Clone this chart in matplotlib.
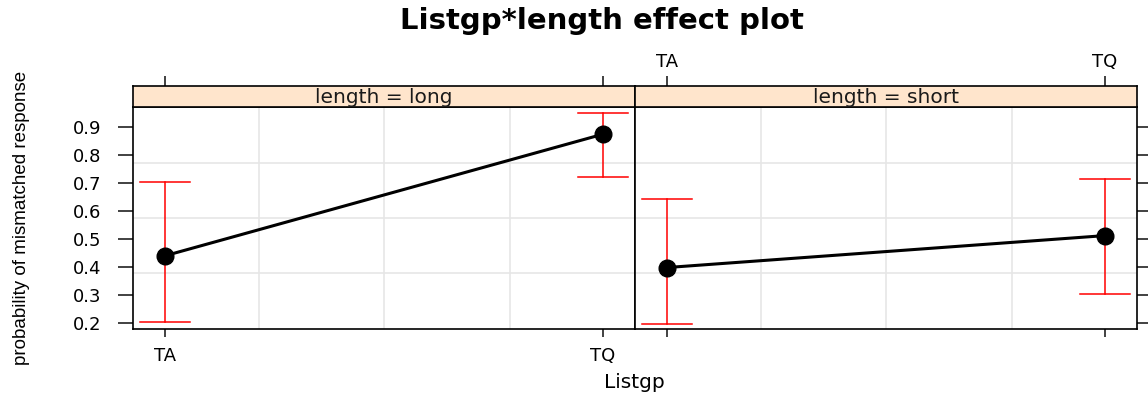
import matplotlib.pyplot as plt

levels = ['TA', 'TQ']
panels = ['long', 'short']
fit = {'long': [0.44, 0.874], 'short': [0.398, 0.512]}
lower = {'long': [0.205, 0.722], 'short': [0.197, 0.303]}
upper = {'long': [0.702, 0.951], 'short': [0.642, 0.714]}
yticks = [0.2, 0.3, 0.4, 0.5, 0.6, 0.7, 0.8, 0.9]
ygrid = [0.38, 0.575, 0.77]
xgrid = [0.215, 0.5, 0.787]

plt.rcParams['font.family'] = ['DejaVu Sans']

fig = plt.figure(figsize=(11.48, 3.96), dpi=100)
W, H = 1148, 396

def box(x0, y0, x1, y1):
    return [x0 / W, 1 - y1 / H, (x1 - x0) / W, (y1 - y0) / H]

lefts = [133, 635]
rights = [635, 1137]
tick_col = '#333333'
for i, p in enumerate(panels):
    ax = fig.add_axes(box(lefts[i], 107, rights[i], 329))
    ax.set_xlim(-0.073, 1.073)
    ax.set_ylim(0.1786, 0.971)
    for g in xgrid:
        ax.axvline(g, color='#e6e6e6', lw=1.2, zorder=0)
    for g in ygrid:
        ax.axhline(g, color='#e6e6e6', lw=1.2, zorder=0)
    x = list(range(len(levels)))
    ax.plot(x, fit[p], color='black', lw=2.2, marker='o', ms=12, zorder=3)
    for xi, lo, hi in zip(x, lower[p], upper[p]):
        ax.plot([xi, xi], [lo, hi], color='#ff0000', lw=1.1, zorder=2)
        for v in (lo, hi):
            ax.plot([xi - 0.057, xi + 0.057], [v, v], color='#ff0000', lw=1.1, zorder=2)
    for s in ax.spines.values():
        s.set_linewidth(1.2)
    ax.set_xticks(x)
    ax.set_yticks(yticks)
    if i == 0:
        ax.set_xticklabels(levels)
        ax.tick_params(axis='x', bottom=True, labelbottom=True,
                       length=6, width=1.3, color=tick_col, labelsize=13, pad=7)
        ax.tick_params(axis='y', left=True, labelleft=True, right=False,
                       length=11, width=1.3, color=tick_col, labelsize=13, pad=12)
        ax.set_yticklabels([f'{v:.1f}' for v in yticks])
    else:
        ax.tick_params(axis='x', bottom=True, labelbottom=False, length=6, width=1.3,
                       color=tick_col)
        ax.tick_params(axis='y', left=False, labelleft=False, right=True, labelright=False,
                       length=8, width=1.3, color=tick_col)
    ax.tick_params(axis='x', top=False, labeltop=False)

    # strip on top; its top ticks stand in for the panel's top axis
    sx = fig.add_axes(box(lefts[i], 86, rights[i], 107))
    sx.set_facecolor('#ffe5cc')
    sx.set_yticks([])
    for s in sx.spines.values():
        s.set_linewidth(1.2)
    sx.text(0.5, 0.47, f'length = {p}', ha='center', va='center', fontsize=14.5,
            color='#1a1a1a', transform=sx.transAxes)
    sx.set_xlim(ax.get_xlim())
    sx.set_xticks(x)
    sx.tick_params(axis='x', bottom=False, labelbottom=False, top=True,
                   labeltop=(i == 1), length=7, width=1.3, color=tick_col,
                   labelsize=13, pad=4)
    if i == 1:
        sx.set_xticklabels(levels)

fig.text(602 / W, 1 - 21 / H, 'Listgp*length effect plot', ha='center', va='center',
         fontsize=21, fontweight='bold')
fig.text(634 / W, 1 - 383 / H, 'Listgp', ha='center', va='center', fontsize=14.5)
fig.text(22 / W, 1 - 218 / H, 'probability of mismatched response', ha='center',
         va='center', rotation=90, fontsize=13.5, family='Liberation Sans')

fig.savefig('out.png', dpi=100)
